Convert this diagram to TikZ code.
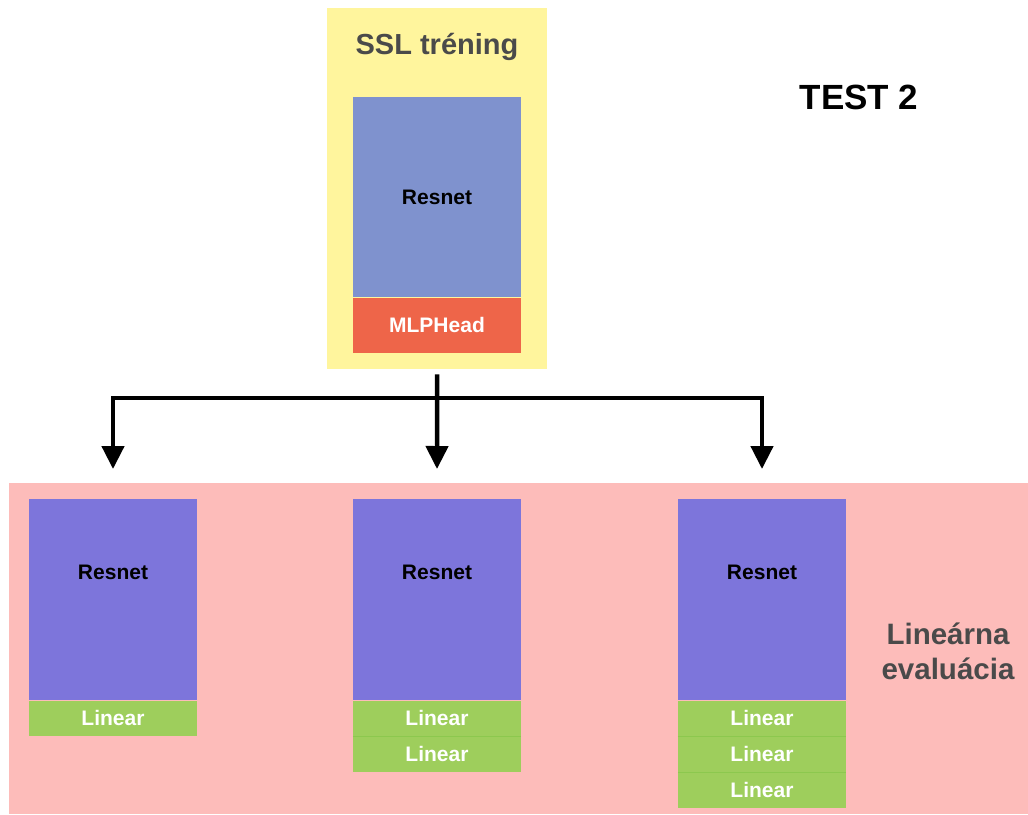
\documentclass[tikz,border=0pt]{standalone}
\usepackage{fontspec}
\setmainfont{Liberation Sans}
\usetikzlibrary{arrows.meta,calc,positioning}

\definecolor{sslyellow}{HTML}{FFF59D}
\definecolor{evalpink}{HTML}{FDBCBA}
\definecolor{resblue}{HTML}{7F92CE}
\definecolor{respurple}{HTML}{7D75DB}
\definecolor{headred}{HTML}{EE6549}
\definecolor{lingreen}{HTML}{9ECE5C}
\definecolor{lingreenline}{HTML}{8CC84E}
\definecolor{textgray}{HTML}{4A4A4A}

\tikzset{
  panel/.style={fill=#1,inner sep=0pt},
  block/.style={fill=#1,inner sep=0pt,minimum width=168pt,anchor=north},
  linbox/.style={block=lingreen,minimum height=35.5pt,
    text=white,font=\bfseries\fontsize{21}{25}\selectfont},
  linsep/.style={draw=lingreenline,line width=1pt},
  lbl/.style={font=\bfseries\fontsize{21}{25}\selectfont},
  flow/.style={line width=4.5pt,-{Triangle[length=23pt,width=22pt]}}
}

\begin{document}
\begin{tikzpicture}[x=1pt,y=-1pt]
\useasboundingbox (0,0) rectangle (1028,814);
% backgrounds
\node[panel=sslyellow,minimum width=220pt,minimum height=361pt,anchor=north west] (ssl) at (327,8) {};
\node[panel=evalpink,minimum width=1019pt,minimum height=331pt,anchor=north west] (eval) at (9,483) {};
\node[font=\bfseries\fontsize{29}{34}\selectfont,text=textgray] (ssltitle) at (437,47) {SSL tréning};
\node[font=\bfseries\fontsize{35}{40}\selectfont] (testname) at (859,97) {TEST 2};
\node[font=\bfseries\fontsize{29.5}{35}\selectfont,text=textgray,align=center] (evaltitle) at (948,651) {Lineárna\\evaluácia};

% pretrained network
\node[block=resblue,minimum height=200pt,lbl] (r0) at (437,97) {Resnet};
\node[block=headred,minimum height=55pt,lbl,text=white] (head) at (r0.south) {MLPHead};

% evaluated networks
\foreach \n/\x in {r1/113,r2/437,r3/762}
  \node[block=respurple,minimum height=201pt] (\n) at (\x,499) {};
\foreach \n in {r1,r2,r3}
  \node[lbl] (\n lab) at ([yshift=-73pt]\n.north) {Resnet};
\node[linbox] (r1a) at (r1.south) {Linear};
\node[linbox] (r2a) at (r2.south) {Linear};
\node[linbox] (r2b) at (r2a.south) {Linear};
\node[linbox] (r3a) at (r3.south) {Linear};
\node[linbox] (r3b) at (r3a.south) {Linear};
\node[linbox] (r3c) at (r3b.south) {Linear};
\foreach \n in {r2a,r3a,r3b}
  \draw[linsep] (\n.south west) -- (\n.south east);

% arrows
\coordinate (split) at (437,398);
\draw[flow] ([yshift=-5pt]ssl.south) -- ([yshift=30pt]r2.north);
\draw[flow] (split) -| ([yshift=30pt]r1.north);
\draw[flow] (split) -| ([yshift=30pt]r3.north);
\end{tikzpicture}
\end{document}
